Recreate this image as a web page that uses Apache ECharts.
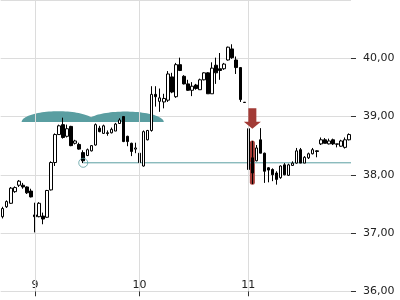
<!DOCTYPE html>
<html><head><meta charset="utf-8">
<script src="https://cdn.jsdelivr.net/npm/echarts@6/dist/echarts.min.js"></script>
<style>html,body{margin:0;padding:0;background:#fff}#c{width:400px;height:300px}</style>
</head><body><div id="c"></div>
<script>
// ---- data ----
const dayLabels = ['8', '9', '10', '11'];
const barsPerDay = [8, 26, 27, 26];
const labelDays = ['9', '10', '11'];
const open  = [37.28,37.45,37.51,37.71,37.82,37.82,37.79,37.72,37.31,37.28,37.29,37.27,37.74,38.21,38.69,38.86,38.66,38.83,38.54,38.52,38.38,38.33,38.41,38.51,38.80,38.71,38.72,38.72,38.75,38.88,39.00,38.66,38.54,38.44,38.37,38.15,38.60,38.76,39.38,39.26,39.25,39.28,39.68,39.34,39.89,39.69,39.56,39.45,39.54,39.46,39.63,39.75,39.39,39.88,39.82,39.82,39.97,40.16,39.97,39.84,39.245,38.79,38.29,38.24,38.60,38.37,38.12,38.09,38.03,37.95,38.17,37.99,38.16,38.20,38.43,38.20,38.29,38.36,38.41,38.53,38.60,38.53,38.60,38.53,38.49,38.47,38.60];
const high  = [37.45,37.56,37.79,37.80,37.91,37.86,37.80,37.76,37.52,37.53,37.35,37.74,38.23,38.71,38.86,38.98,38.86,38.84,38.60,38.55,38.42,38.45,38.51,38.88,38.84,38.86,38.76,38.81,38.89,38.97,39.00,38.67,38.55,38.55,38.38,38.76,38.77,39.52,39.52,39.48,39.39,39.78,39.75,39.92,40.01,39.71,39.63,39.59,39.56,39.65,39.76,39.76,39.93,40.01,40.09,39.92,40.20,40.24,40.03,39.85,39.245,38.81,38.58,38.51,38.80,38.38,38.13,38.11,38.06,38.16,38.20,38.19,38.23,38.46,38.46,38.32,38.38,38.46,38.42,38.64,38.63,38.62,38.62,38.53,38.60,38.64,38.71];
const low   = [37.25,37.43,37.50,37.69,37.79,37.76,37.67,37.61,37.01,37.27,37.15,37.26,37.73,38.15,38.69,38.62,38.64,38.49,38.52,38.43,38.20,38.32,38.40,38.50,38.73,38.70,38.67,38.71,38.75,38.88,38.56,38.49,38.32,38.37,38.20,38.14,38.59,38.74,39.17,39.08,39.14,39.25,39.40,39.32,39.78,39.55,39.44,39.35,39.46,39.46,39.62,39.39,39.39,39.56,39.63,39.80,39.96,39.99,39.73,39.25,39.235,38.06,37.84,38.23,38.37,37.86,37.87,37.89,37.83,37.93,37.99,37.98,38.15,38.19,38.20,38.20,38.27,38.35,38.30,38.51,38.54,38.52,38.51,38.47,38.48,38.45,38.59];
const close = [37.42,37.54,37.77,37.78,37.89,37.79,37.69,37.62,37.28,37.51,37.24,37.73,38.21,38.69,38.84,38.64,38.79,38.50,38.58,38.44,38.24,38.43,38.50,38.86,38.74,38.84,38.71,38.78,38.87,38.94,38.57,38.57,38.40,38.46,38.21,38.74,38.76,39.38,39.34,39.32,39.31,39.73,39.42,39.89,39.79,39.56,39.45,39.52,39.48,39.63,39.75,39.39,39.83,39.75,39.79,39.90,40.19,40.01,39.84,39.29,39.24,38.09,38.03,38.46,38.37,38.06,38.08,38.00,37.92,38.15,38.00,38.17,38.20,38.41,38.20,38.30,38.36,38.43,38.40,38.60,38.54,38.58,38.53,38.525,38.58,38.60,38.69];
const yTicks = [36, 37, 38, 39, 40];
// annotations: [startIndex, endIndex, basePrice, topPrice]
const humps = [[4.7, 22.9, 38.905, 39.09], [20.9, 40.0, 38.905, 39.085]];
const support = [[20, 38.205], [86.5, 38.205]];
const supportMarker = [[20, 38.205]];
const signalBar = [[62, 38.59, 37.83]];    // [index, top, bottom]
const arrowMark = [[62, 39.14, 38.79]];    // [index, top, tip]

// ---- derived ----
const categories = [];
const dayStart = [];
dayLabels.forEach((d, k) => {
  if (labelDays.includes(d)) dayStart.push(categories.length);
  for (let j = 1; j <= barsPerDay[k]; j++) categories.push(d + '-' + j);
});
const ohlc = open.map((o, i) => [o, close[i], low[i], high[i]]);
const fmt = v => v.toFixed(2).replace('.', ',');
const TEAL = '#5a9ea1', RED = '#a23b36', FONT = 'DejaVu Sans';
const showIdx = (i) => dayStart.includes(i);

const chart = echarts.init(document.getElementById('c'), null, {renderer: 'canvas'});
chart.setOption({
  animation: false,
  backgroundColor: '#fff',
  grid: {left: 0.7, right: 49, top: -2.75, bottom: 8.75},
  xAxis: [{
    type: 'category', data: categories, boundaryGap: true,
    axisLine: {show: false, onZero: false},
    axisTick: {show: true, alignWithLabel: true, interval: showIdx, length: 5, lineStyle: {color: '#333'}},
    axisLabel: {inside: true, interval: showIdx, formatter: v => v.split('-')[0], color: '#222', fontSize: 11, fontFamily: FONT, margin: 1},
    splitLine: {show: false}
  }, {
    type: 'value', min: -0.5, max: categories.length - 0.5, show: false
  }],
  yAxis: {
    type: 'value', position: 'right', min: yTicks[0], max: yTicks[yTicks.length - 1] + 1, interval: 1,
    axisLine: {show: false, onZero: false},
    axisTick: {show: true, length: 5, lineStyle: {color: '#333'}},
    axisLabel: {formatter: fmt, color: '#222', fontSize: 11, fontFamily: FONT, margin: 12, showMaxLabel: false},
    splitLine: {lineStyle: {color: '#dcdcdc', width: 1}}
  },
  series: [{
    type: 'custom', xAxisIndex: 1, z: 1, silent: true,
    data: humps,
    encode: {x: [0, 1], y: [2, 3]},
    renderItem: (params, api) => {
      const x1 = api.value(0), x2 = api.value(1), yb = api.value(2), yt = api.value(3);
      const p1 = api.coord([x1, yb]), p2 = api.coord([x2, yb]), pt = api.coord([(x1 + x2) / 2, yt]);
      const cx = (p1[0] + p2[0]) / 2, a = (p2[0] - p1[0]) / 2, b = p1[1] - pt[1];
      const pts = [];
      for (let k = 0; k <= 48; k++) {
        const t = Math.PI * k / 48;
        pts.push([cx - a * Math.cos(t), p1[1] - b * Math.sin(t)]);
      }
      return {type: 'polygon', shape: {points: pts}, style: {fill: TEAL}};
    }
  }, {
    type: 'line', xAxisIndex: 1, z: 1, silent: true,
    data: support, symbol: 'none',
    lineStyle: {color: TEAL, width: 1},
    markLine: {
      silent: true, symbol: ['none', 'none'], label: {show: false},
      lineStyle: {color: '#dcdcdc', width: 1, type: 'solid'},
      data: dayStart.map(i => ({xAxis: i}))
    }
  }, {
    type: 'custom', xAxisIndex: 1, z: 1, silent: true,
    data: signalBar, encode: {x: 0, y: [1, 2]},
    renderItem: (params, api) => {
      const t = api.coord([api.value(0), api.value(1)]), b = api.coord([api.value(0), api.value(2)]);
      return {type: 'rect', shape: {x: t[0] - 2.5, y: t[1], width: 5, height: b[1] - t[1], r: 2.5}, style: {fill: RED}};
    }
  }, {
    type: 'candlestick', xAxisIndex: 0, z: 3, barWidth: 3,
    data: ohlc,
    itemStyle: {color: '#ffffff', color0: '#000000', borderColor: '#000000', borderColor0: '#000000', borderColorDoji: '#000000', borderWidth: 1},
    markLine: {
      silent: true, symbol: ['none', 'none'],
      lineStyle: {opacity: 0},
      label: {show: true, position: 'end', distance: 12, formatter: () => fmt(close[close.length - 1]), color: '#222', fontSize: 11, fontFamily: FONT},
      data: [{yAxis: close[close.length - 1]}]
    }
  }, {
    type: 'scatter', xAxisIndex: 1, z: 4, silent: true,
    data: supportMarker, symbol: 'circle', symbolSize: 9,
    itemStyle: {color: 'rgba(0,0,0,0)', borderColor: TEAL, borderWidth: 1}
  }, {
    type: 'custom', xAxisIndex: 1, z: 5, silent: true,
    data: arrowMark, encode: {x: 0, y: [1, 2]},
    renderItem: (params, api) => {
      const top = api.coord([api.value(0), api.value(1)]), tip = api.coord([api.value(0), api.value(2)]);
      const cx = tip[0], hy = tip[1] - 7;
      return {type: 'polygon', shape: {points: [
        [cx - 4, top[1]], [cx + 4, top[1]], [cx + 4, hy], [cx + 8.5, hy], [cx, tip[1]], [cx - 8.5, hy], [cx - 4, hy]
      ]}, style: {fill: RED}};
    }
  }]
});
</script>
</body></html>
